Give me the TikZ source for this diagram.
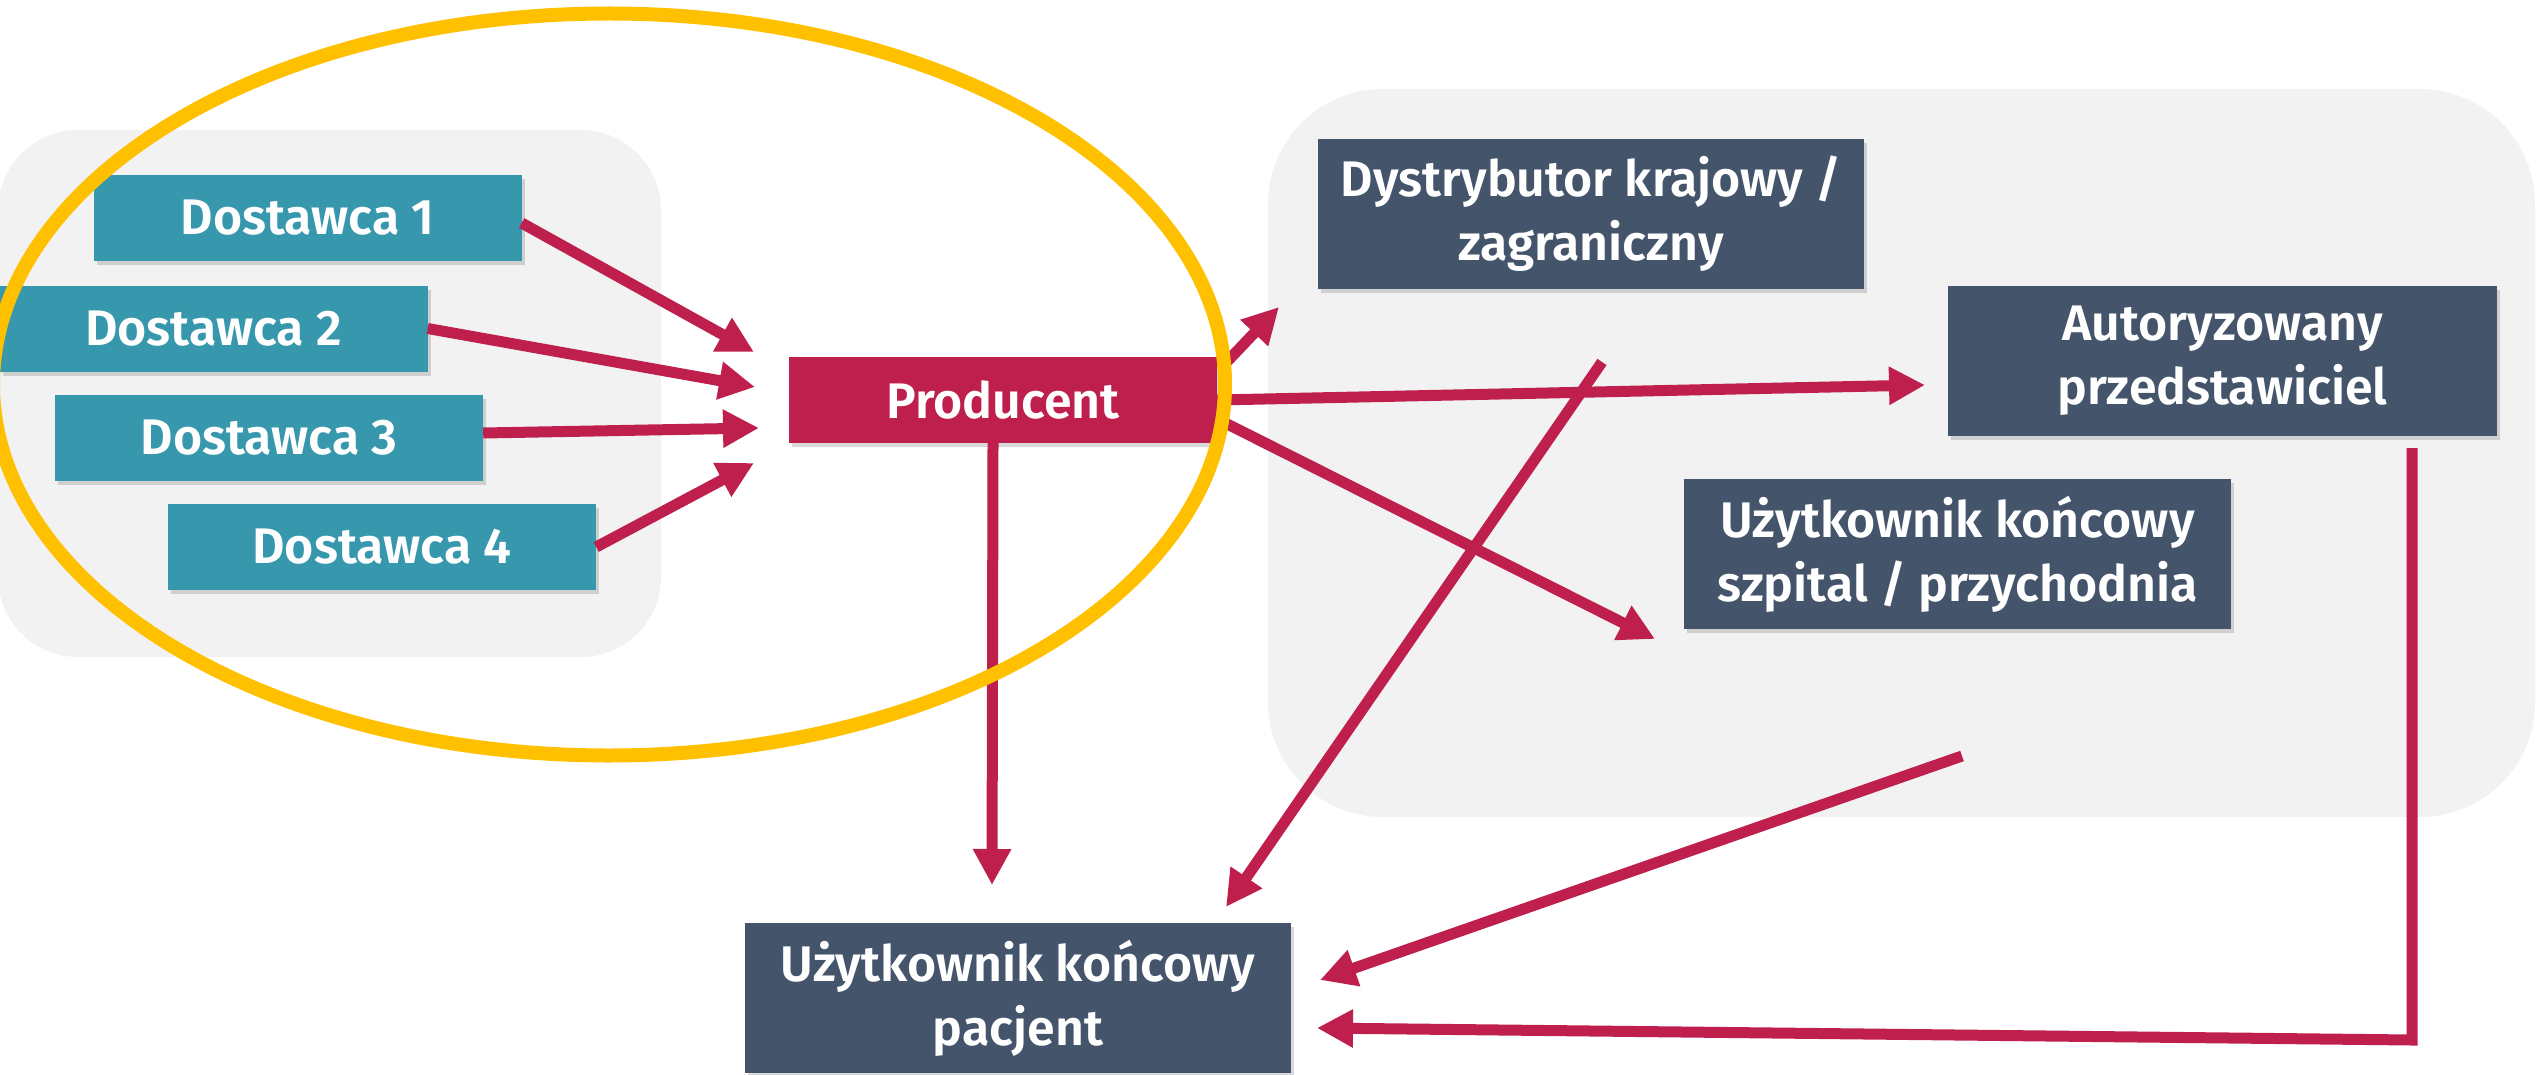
\documentclass[tikz,border=0pt]{standalone}
\usepackage{fontspec}
\setmainfont{Fira Sans}[BoldFont={Fira Sans SemiBold}]
\usetikzlibrary{arrows.meta,shadows,calc}
\definecolor{teal1}{HTML}{3797AC}
\definecolor{crim}{HTML}{BE1F4D}
\definecolor{slate}{HTML}{44546A}
\definecolor{bggray}{HTML}{F2F2F2}
\definecolor{gold}{HTML}{FFC000}
\tikzset{
  box/.style={draw=none, text=white, font=\fontsize{50}{64}\selectfont\bfseries,
    align=center, inner sep=0pt,
    drop shadow={shadow xshift=3pt, shadow yshift=-4pt, opacity=0.3}},
  supbox/.style={box, fill=teal1, minimum width=428pt, minimum height=86pt},
  prodbox/.style={box, fill=crim, minimum width=428pt, minimum height=86pt},
  actbox/.style={box, fill=slate, minimum width=547pt, minimum height=150pt},
  conn/.style={draw=crim, line width=11pt, -{Triangle[length=36pt,width=36pt]}},
  panel/.style={fill=bggray},
}
\begin{document}
\begin{tikzpicture}[x=1pt,y=-1pt]
\useasboundingbox (0,0) rectangle (2539,1075);
% background panels
\fill[panel, rounded corners=80pt] (-2,130) rectangle (661,657);
\fill[panel, rounded corners=115pt] (1268,89) rectangle (2535,817);
% nodes
\node[supbox] (d1) at (307.5,218) {Dostawca 1};
\node[supbox] (d2) at (213.5,328.5) {Dostawca 2};
\node[supbox] (d3) at (269,438) {Dostawca 3};
\node[supbox] (d4) at (382,547) {Dostawca 4};
\node[prodbox] (prod) at (1003,400) {Producent};
\node[actbox, minimum width=546pt] (dyst) at (1591,214) {Dystrybutor krajowy /\\zagraniczny};
\node[actbox, minimum width=549pt] (auto) at (2222.5,361) {Autoryzowany\\przedstawiciel};
\node[actbox] (szp) at (1957.5,554) {Użytkownik końcowy\\szpital / przychodnia};
\node[actbox, minimum width=546pt] (pac) at (1018,998) {Użytkownik końcowy\\pacjent};
% coordinates
\coordinate (t1) at (754,352);
\coordinate (t2) at (755,387);
\coordinate (t3) at (759,428);
\coordinate (t4) at (754,463);
\coordinate (tdy) at (1279,307);
\coordinate (tau) at (1925,385);
\coordinate (tsz) at (1655,639);
\coordinate (tpa1) at (992,885);
\coordinate (tpa2) at (1226,907);
\coordinate (tpa3) at (1320,980);
\coordinate (tpa4) at (1317,1028);
\coordinate (sdy) at (1602,362);
\coordinate (ssz) at (1962,756);
\coordinate (sau) at (2412,448);
\coordinate (cor) at (2412,1040);
% connectors
\draw[conn] ([yshift=-5pt]d1.east) -- (t1);
\draw[conn] (d2.east) -- (t2);
\draw[conn] ([yshift=5pt]d3.east) -- (t3);
\draw[conn] (d4.east) -- (t4);
\draw[conn] ([xshift=3pt,yshift=-12pt]prod.north east) -- (tdy);
\draw[conn] (prod.east) -- (tau);
\draw[conn] ([xshift=6pt,yshift=-22pt]prod.east) -- (tsz);
\draw[conn] ([xshift=-10pt]prod.south) -- (tpa1);
\draw[conn] (sdy) -- (tpa2);
\draw[conn] (ssz) -- (tpa3);
\draw[conn] (sau) -- (cor) -- (tpa4);
% highlight ellipse
\draw[gold, line width=14pt] (609,384.5) ellipse [x radius=616, y radius=371];
\end{tikzpicture}
\end{document}
